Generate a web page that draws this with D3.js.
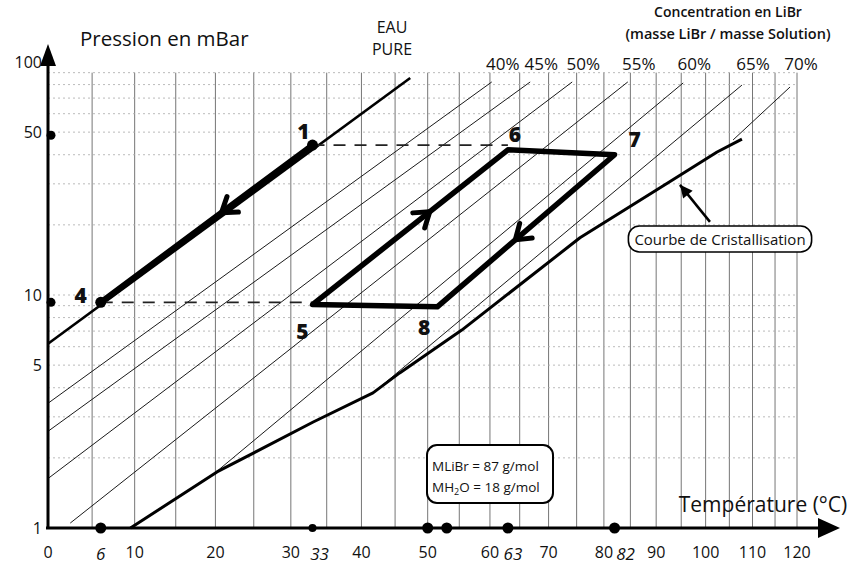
<!DOCTYPE html>
<html>
<head>
<meta charset="utf-8">
<title>Diagramme de Dühring H2O / LiBr</title>
<script src="https://cdn.jsdelivr.net/npm/d3@7/dist/d3.min.js"></script>
<style>
  body { margin: 0; background: #fff; }
  svg text { font-family: 'Open Sans', sans-serif; fill: #111; }
</style>
</head>
<body>
<svg width="852" height="573"></svg>
<script>
const tempTicks = [0, 10, 20, 30, 40, 50, 60, 70, 80, 90, 100, 110, 120];
const handTicks = [6, 33, 63, 82];           // valeurs ecrites a la main sous l'axe
const handShift = [0, 7, 5, 11];
const tempDots = [6, 33, 50, 53, 63, 82];
const pressTicks = [100, 50, 10, 5, 1];
const pressDots = [48.5, 9.3];
const gridT = [5, 10, 15, 20, 25, 30, 35, 40, 45, 50, 55, 60, 65, 70, 75, 80, 85, 90, 95, 100, 105, 110, 115, 120];
const gridP = [2, 3, 4, 5, 6, 7, 8, 9, 10, 20, 30, 40, 50, 60, 70, 80, 90];

// droites d'iso-concentration : [T degC, P mbar] debut et fin
const concNames = ['40%', '45%', '50%', '55%', '60%', '65%', '70%'];
const concStart = [[0, 3.43], [0, 2.60], [0, 1.63], [2.5, 1.05], [20, 1.73], [41.7, 3.8], [105.8, 46.3]];
const concEnd   = [[60.3, 82.1], [66.8, 82.1], [74.2, 82.1], [84.5, 82.1], [95.4, 81.3], [107.7, 79.6], [118.4, 78.1]];

const pureWater = [[0, 6.18], [47.3, 85.4]];

const crystal = [[9.5, 1.0], [20.2, 1.74], [33.1, 2.85], [41.7, 3.8], [45.7, 4.63], [55.4, 7.07],
                 [75.6, 17.6], [92.2, 30.2], [102.4, 41.1], [107.7, 46.7]];

// points du cycle
const ptNames = ['1', '4', '5', '6', '7', '8'];
const ptT = [33, 6, 33, 63, 82, 51.5];
const ptP = [44, 9.3, 9.1, 42, 40, 8.9];

const svg = d3.select('svg');
const K = 273.15;
const inv = t => -1 / (t + K);
const xLin = d3.scaleLinear().domain([inv(0), inv(120)]).range([48, 797]);
const x = t => xLin(inv(t));
const y = d3.scaleLog().domain([1, 100]).range([528, 62]);

const pt = {};
ptNames.forEach((n, i) => pt[n] = [ptT[i], ptP[i]]);

const line = d3.line().x(d => x(d[0])).y(d => y(d[1]));

// ---- grille ----
const grid = svg.append('g');
grid.selectAll('.vg').data(gridT).enter().append('line')
  .attr('x1', d => x(d)).attr('x2', d => x(d))
  .attr('y1', y(90)).attr('y2', y(1))
  .attr('stroke', '#666').attr('stroke-width', 0.9);
grid.selectAll('.hg').data(gridP).enter().append('line')
  .attr('x1', x(0)).attr('x2', x(120))
  .attr('y1', d => y(d)).attr('y2', d => y(d))
  .attr('stroke', '#aaa').attr('stroke-width', 0.8)
  .attr('stroke-dasharray', '2,3');

// ---- droites de concentration ----
svg.append('g').selectAll('path').data(concNames).enter().append('path')
  .attr('d', (d, i) => line([concStart[i], concEnd[i]]))
  .attr('fill', 'none').attr('stroke', '#1a1a1a').attr('stroke-width', 1);

svg.append('g').selectAll('text').data(concNames).enter().append('text')
  .attr('x', (d, i) => x(concEnd[i][0]) + 11)
  .attr('y', 70)
  .attr('text-anchor', 'middle')
  .style('font-size', '17px')
  .text(d => d);

// ---- eau pure ----
svg.append('path').attr('d', line(pureWater))
  .attr('fill', 'none').attr('stroke', '#000').attr('stroke-width', 2.6);
svg.append('path').attr('d', line([pt['4'], pt['1']]))
  .attr('fill', 'none').attr('stroke', '#000').attr('stroke-width', 6)
  .attr('stroke-linecap', 'round');

// ---- courbe de cristallisation ----
svg.append('path').attr('d', line(crystal))
  .attr('fill', 'none').attr('stroke', '#000').attr('stroke-width', 3)
  .attr('stroke-linejoin', 'round');

// ---- pointilles horizontaux ----
svg.append('path').attr('d', line([pt['1'], [pt['6'][0], pt['1'][1]]]))
  .attr('stroke', '#222').attr('stroke-width', 1.6).attr('stroke-dasharray', '12,9');
svg.append('path').attr('d', line([pt['4'], [pt['5'][0], pt['4'][1]]]))
  .attr('stroke', '#222').attr('stroke-width', 1.6).attr('stroke-dasharray', '12,9');

// ---- cycle 5-6-7-8 ----
svg.append('path').attr('d', line([pt['5'], pt['6'], pt['7'], pt['8']]) + 'Z')
  .attr('fill', 'none').attr('stroke', '#000').attr('stroke-width', 5.5)
  .attr('stroke-linejoin', 'round');

// fleches sur les segments
function chevron(a, b, f, len, ang) {
  const x0 = x(a[0]), y0 = y(a[1]), x1 = x(b[0]), y1 = y(b[1]);
  const tx = x0 + (x1 - x0) * f, ty = y0 + (y1 - y0) * f;
  const th = Math.atan2(y1 - y0, x1 - x0);
  const w1 = [tx - len * Math.cos(th - ang), ty - len * Math.sin(th - ang)];
  const w2 = [tx - len * Math.cos(th + ang), ty - len * Math.sin(th + ang)];
  return `M${w1}L${tx},${ty}L${w2}`;
}
const arrows = [['1', '4', 0.43], ['5', '6', 0.6], ['7', '8', 0.56]];
svg.append('g').selectAll('path').data(arrows).enter().append('path')
  .attr('d', d => chevron(pt[d[0]], pt[d[1]], d[2], 17, 0.6))
  .attr('fill', 'none').attr('stroke', '#000').attr('stroke-width', 5)
  .attr('stroke-linecap', 'round').attr('stroke-linejoin', 'round');

svg.append('g').selectAll('circle').data(['1', '4']).enter().append('circle')
  .attr('cx', d => x(pt[d][0])).attr('cy', d => y(pt[d][1])).attr('r', 5.5)
  .attr('fill', '#000');

// numeros des points
const numOff = { '1': [-9, -14], '4': [-20, -7], '5': [-10, 26], '6': [7, -16], '7': [20, -16], '8': [-13, 20] };
svg.append('g').selectAll('text').data(ptNames).enter().append('text')
  .attr('x', d => x(pt[d][0]) + numOff[d][0])
  .attr('y', d => y(pt[d][1]) + numOff[d][1])
  .attr('text-anchor', 'middle').attr('dominant-baseline', 'central')
  .style('font-size', '21px').style('font-weight', 800)
  .text(d => d);

// ---- axes ----
const axes = svg.append('g');
axes.append('line').attr('x1', x(0)).attr('x2', x(0)).attr('y1', y(1)).attr('y2', 62)
  .attr('stroke', '#000').attr('stroke-width', 3);
axes.append('path').attr('d', `M${x(0)},44L${x(0) - 8},66L${x(0) + 8},66Z`).attr('fill', '#000');
axes.append('line').attr('x1', x(0) - 2).attr('x2', 822).attr('y1', y(1)).attr('y2', y(1))
  .attr('stroke', '#000').attr('stroke-width', 3);
axes.append('path').attr('d', `M840,${y(1)}L818,${y(1) - 10}L818,${y(1) + 10}Z`).attr('fill', '#000');

axes.selectAll('.tl').data(tempTicks).enter().append('text')
  .attr('x', d => x(d)).attr('y', 558)
  .attr('text-anchor', 'middle').style('font-size', '16px')
  .text(d => d);
axes.selectAll('.hl').data(handTicks).enter().append('text')
  .attr('x', (d, i) => x(d) + handShift[i]).attr('y', 560)
  .attr('text-anchor', 'middle').style('font-size', '17px').style('font-style', 'italic')
  .text(d => d);
axes.selectAll('.td').data(tempDots).enter().append('circle')
  .attr('cx', d => x(d)).attr('cy', y(1)).attr('r', d => d === 33 ? 4 : 5.5).attr('fill', '#000');

axes.selectAll('.pl').data(pressTicks).enter().append('text')
  .attr('x', 42).attr('y', d => y(d))
  .attr('text-anchor', 'end').attr('dominant-baseline', 'central')
  .style('font-size', '16px')
  .text(d => d);
axes.selectAll('.pd').data(pressDots).enter().append('circle')
  .attr('cx', x(0) + 3).attr('cy', d => y(d)).attr('r', 4.5).attr('fill', '#000');

// ---- titres ----
svg.append('text').attr('x', 80).attr('y', 46).style('font-size', '20.5px').text('Pression en mBar');
svg.append('text').attr('x', 392).attr('y', 33).attr('text-anchor', 'middle').style('font-size', '16px').text('EAU');
svg.append('text').attr('x', 392).attr('y', 55).attr('text-anchor', 'middle').style('font-size', '16px').text('PURE');
svg.append('text').attr('x', 728).attr('y', 17).attr('text-anchor', 'middle')
  .style('font-size', '14px').style('font-weight', 600).text('Concentration en LiBr');
svg.append('text').attr('x', 728).attr('y', 39).attr('text-anchor', 'middle')
  .style('font-size', '14.5px').style('font-weight', 600).text('(masse LiBr / masse Solution)');
svg.append('text').attr('x', 763).attr('y', 512).attr('text-anchor', 'middle')
  .style('font-size', '21px').text('Température (°C)');

// ---- encadre cristallisation ----
const tipC = [94.75, 29.7], tailC = [100.9, 20.6];
svg.append('line').attr('x1', x(tailC[0])).attr('y1', y(tailC[1]))
  .attr('x2', x(tipC[0])).attr('y2', y(tipC[1]))
  .attr('stroke', '#000').attr('stroke-width', 2.5);
svg.append('path')
  .attr('d', chevron(tailC, tipC, 1, 14, 0.45) + 'Z')
  .attr('fill', '#000');

const cg = svg.append('g');
const ct = cg.append('text').attr('x', 720).attr('y', 239)
  .attr('text-anchor', 'middle').attr('dominant-baseline', 'central')
  .style('font-size', '15px').text('Courbe de Cristallisation');
const cb = ct.node().getBBox();
cg.insert('rect', 'text')
  .attr('x', cb.x - 6).attr('y', cb.y - 3).attr('width', cb.width + 12).attr('height', cb.height + 6)
  .attr('rx', 11).attr('fill', '#fff').attr('stroke', '#000').attr('stroke-width', 1.6);

// ---- encadre masses molaires ----
const mg = svg.append('g');
mg.append('rect').attr('x', 427).attr('y', 445).attr('width', 126).attr('height', 58)
  .attr('rx', 10).attr('fill', '#fff').attr('stroke', '#000').attr('stroke-width', 2);
mg.append('text').attr('x', 432).attr('y', 471).style('font-size', '13.5px').text('MLiBr = 87 g/mol');
const t2 = mg.append('text').attr('x', 432).attr('y', 492).style('font-size', '13.5px');
t2.append('tspan').text('MH');
t2.append('tspan').attr('dy', 3).style('font-size', '9px').text('2');
t2.append('tspan').attr('dy', -3).text('O = 18 g/mol');
</script>
</body>
</html>
